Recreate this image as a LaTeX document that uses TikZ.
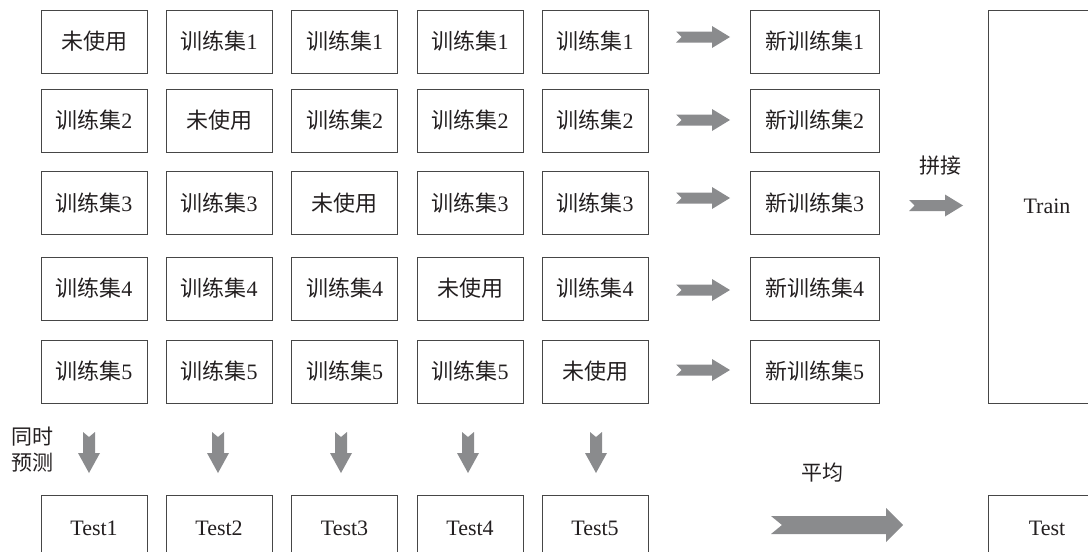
\documentclass[tikz,border=0pt]{standalone}
\usepackage{fontspec}
\setmainfont{Liberation Serif}
\newfontfamily\cjk{Noto Sans CJK SC}
\newcommand\zh[1]{{\cjk #1}}
\definecolor{arrowgray}{RGB}{138,139,141}
\definecolor{linegray}{RGB}{70,70,70}
\definecolor{txt}{RGB}{35,31,32}
% horizontal block arrow: x0, x1, yc, shaft half, head half, head length, notch
\newcommand\hblk[7]{\fill[arrowgray] (#1,#3-#4) -- (#2-#6,#3-#4) -- (#2-#6,#3-#5) -- (#2,#3) -- (#2-#6,#3+#5) -- (#2-#6,#3+#4) -- (#1,#3+#4) -- (#1+#7,#3) -- cycle;}
% vertical block arrow: xc, y0, y1, shaft half, head half, head length, notch
\newcommand\vblk[7]{\fill[arrowgray] (#1-#4,#2) -- (#1,#2+#7) -- (#1+#4,#2) -- (#1+#4,#3-#6) -- (#1+#5,#3-#6) -- (#1,#3) -- (#1-#5,#3-#6) -- (#1-#4,#3-#6) -- cycle;}
\begin{document}
\begin{tikzpicture}[x=1pt,y=-1pt,
  box/.style={draw=linegray, line width=1pt, minimum width=106pt, minimum height=63pt,
    inner sep=0pt, text=txt, font=\fontsize{22}{24}\selectfont},
  newbox/.style={box, minimum width=129pt},
  bigbox/.style={box, minimum width=118pt},
  testbox/.style={box, minimum height=66pt},
  lbl/.style={text=txt, inner sep=0pt, font=\fontsize{21}{26}\selectfont}]
\useasboundingbox (0,0) rectangle (1088,552);
\foreach \r/\y in {1/41.5,2/120.5,3/203,4/288.5,5/371.5} {
  \foreach \c/\x in {1/94,2/219,3/344.5,4/470,5/595} {
    \ifnum\r=\c
      \node[box] (b\r\c) at (\x,\y) {\zh{未使用}};
    \else
      \node[box] (b\r\c) at (\x,\y) {\zh{训练集}\r};
    \fi
  }
  \node[newbox] (n\r) at (814.5,\y) {\zh{新训练集}\r};
}
\foreach \y in {37,120,198,290,370} {\hblk{676}{730}{\y}{5.5}{11}{18}{5.5}}
\node[bigbox, minimum height=393pt] (train) at (1047,206.5) {Train};
\hblk{909}{963}{205.5}{5.5}{11}{18}{5.5}
\node[lbl] (pj) at (940,166) {\zh{拼接}};
\node[lbl, align=left] (tsyc) at (33,450) {\zh{同时}\\\zh{预测}};
\foreach \c/\x/\ax in {1/94/89,2/219/218,3/344.5/341,4/470/468,5/595/596} {
  \node[testbox] (t\c) at (\x,528) {Test\c};
  \vblk{\ax}{432}{473}{6}{11}{20}{5}
}
\node[lbl] (pjun) at (822,473) {\zh{平均}};
\hblk{771}{903}{525}{9}{17}{17}{11}
\node[testbox, minimum width=118pt] (test) at (1047,528) {Test};
\end{tikzpicture}
\end{document}
